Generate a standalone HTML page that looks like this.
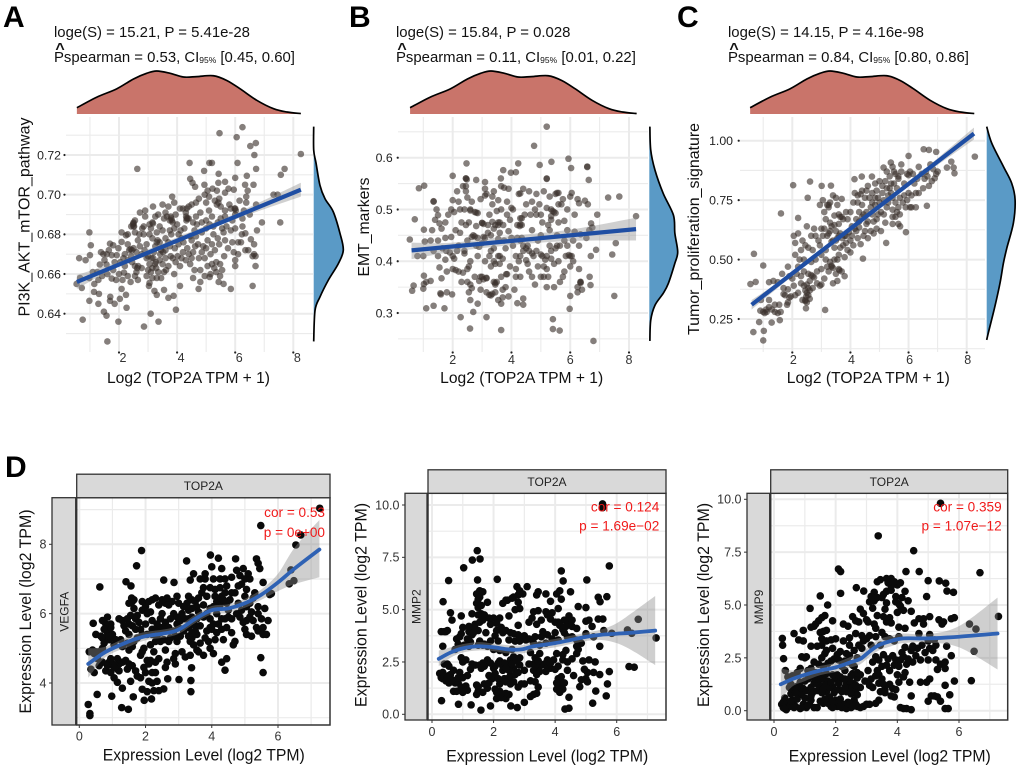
<!DOCTYPE html>
<html lang="en">
<head>
<meta charset="utf-8">
<title>TOP2A correlation panels</title>
<style>
html,body{margin:0;padding:0;background:#fff}
svg{display:block;font-family:"Liberation Sans",Arial,sans-serif}
</style>
</head>
<body>
<svg id="figure" width="1020" height="769" viewBox="0 0 1020 769" xmlns="http://www.w3.org/2000/svg"></svg>
<script>
/* ---------- shared marginal density of the x variable ---------- */
const topDensityX=[0.55,1.23,1.92,2.5,2.95,3.3,3.76,4.22,4.68,5.25,5.71,6.17,6.75,7.32,7.78,8.26];
const topDensityH=[0.146,0.39,0.585,0.815,0.946,1,0.946,0.86,0.87,0.89,0.78,0.585,0.315,0.123,0.046,0.01];

/* ---------- panel A ---------- */
const xTicksTop=[2,4,6,8];
const xMinorTop=[1,3,5,7];
const yTicksA=[0.64,0.66,0.68,0.70,0.72];
const yTickLabelsA=['0.64','0.66','0.68','0.70','0.72'];
const yMinorA=[0.63,0.65,0.67,0.69,0.71,0.73];
const rightDensityYA=[0.7343,0.7225,0.7158,0.7048,0.698,0.6914,0.6804,0.672,0.6652,0.6568,0.6484,0.6417,0.626];
const rightDensityWA=[0,0,0.08,0.21,0.38,0.66,0.89,1,0.83,0.49,0.21,0.045,0];
const fitXA=[0.55,8.26];
const fitYA=[0.656,0.7025];
const bandXA=[0.55,2,4,6,8.26];
const bandHiA=[0.6595,0.6665,0.6785,0.6905,0.706];
const bandLoA=[0.6525,0.664,0.676,0.6875,0.699];
const pointsA=[[6.25,.734],[5.46,.731],[6.05,.729],[6.52,.7245],[6.71,.726],[6.66,.72],[8.26,.7205],[2.63,.713],[4.43,.716],[5.11,.716],[5.2,.716],[6.08,.716],[4.93,.712],[5.43,.7105],[4.45,.708],[4.53,.706],[4.62,.704],[4.94,.705],[6,.7085],[6.4,.7095],[6.72,.713],[7.7,.713],[7.57,.71],[5.42,.706],[5.65,.7065],[6.34,.705],[6.63,.705],[6.43,.702],[5.77,.703],[5.95,.7025],[5.65,.701],[5.05,.702],[5.22,.703],[5.37,.702],[7.32,.7],[7.46,.7],[3.83,.699],[6.38,.699],[6.38,.696],[6.72,.695],[6.92,.686],[7.55,.686],[5.42,.696],[5.37,.695],[6,.693],[6.02,.692],
[1.6,.626],[.75,.637],[1.98,.636],[2.86,.6335],[3.36,.636],[3.09,.64],[3.96,.642],[1.57,.639],[1.48,.641],[2.26,.643],[1.85,.645],[2.03,.6475],[1.69,.6465],[1.7,.6485],[1.29,.645],[.98,.6465],[1.14,.651],[1.31,.65],[2.24,.6495],[2.09,.6525],[.54,.655],[.66,.658],[.72,.653],[.63,.668],[.85,.667],[.98,.681],[1.03,.6745],[1,.6695],[3.7,.648],[3.88,.649],[3.55,.652],[3.22,.6515],[3.03,.654],[3.3,.6495],[4.1,.654],[4.74,.6525],[5.85,.6525],[6.6,.654],[4.8,.656],[5.12,.6585],[5.43,.656],[5.48,.659],[5.6,.655],[6.7,.664],[6,.664],[6.7,.669],[6.35,.672],[6.54,.6775],[6.23,.68],
[1.69,.6753],[1.8,.6745],[1.98,.673],[1.46,.67],[1.58,.67],[1.75,.6695],[1.92,.6695],[2.09,.6762],[2.09,.681],[2.24,.6795],[2.2,.67],[1.34,.6648],[1.57,.6648],[1.1,.661],[.98,.658],[1.29,.657],[1.15,.655],[1.8,.662],[2,.66],[2.17,.6607],[1.75,.6577],
[2.35,.672],[2.4,.6725],[2.45,.666],[2.5,.684],[2.5,.686],[2.42,.684],[2.55,.687],[2.72,.691],[2.9,.689],[2.65,.677],[2.72,.674],[2.8,.683],[2.85,.68],[3.05,.685],[3.17,.694],[3.25,.689],[3.5,.695],[3.7,.694],[3.55,.688],[3.65,.689],[3.75,.687],[3.85,.686],[3.95,.69],[4.2,.693],[4.33,.693],[4.4,.694],[4.32,.687],[4.4,.688],[4.25,.683],[4.65,.696],[4.65,.689],[4.8,.691],[5,.696],[5.1,.692],[5.2,.689],[5.5,.694],[5.65,.689],[5.85,.693],[5.98,.693],[6,.69],[6.25,.688],[5.9,.687],[6.25,.684],[6.35,.6805],[6.1,.676],[5.9,.676],[5.65,.677],[5.45,.675],[5.25,.68],[5,.683],[4.85,.681],[4.6,.682],[4.45,.679],
[2.55,.664],[2.6,.661],[2.55,.659],[2.78,.663],[2.95,.668],[3.05,.665],[3.1,.661],[3.18,.668],[3.28,.663],[3.4,.667],[3.52,.671],[3.6,.668],[3.7,.664],[3.45,.658],[3.3,.658],[3.55,.661],[3.85,.668],[3.95,.666],[4.1,.664],[4.2,.671],[4.35,.673],[4.55,.671],[4.72,.675],[4.9,.674],[5.05,.677],[5.15,.67],[4.95,.668],[4.45,.665],[4.6,.662],[4.8,.662],[5.05,.664],[5.35,.666],[5.48,.665],[5.62,.669],[5.3,.672],[5.95,.671],[6.1,.67],[6.65,.67],[6.6,.669],[2.2,.664],[2.3,.659],[2.4,.656],[2.65,.657],[2.95,.659],[3.05,.6555],[3.15,.663],[3.4,.676],[3.6,.678],[3.3,.681],[3.15,.678],[2.95,.675],[3.5,.682],[3.8,.68],[4.05,.675],[4,.685],[3.2,.671],[2.3,.68],[2.3,.675],[2.55,.681],[3.6,.672],[3.75,.674],[4.15,.678]];
const pointsAExtra=[[2.5,.6855],[2.48,.685],[2.52,.684],[3.15,.686],[3.17,.6855],[3.8,.688],[3.78,.689],[3.82,.687],[4.33,.688],[4.36,.688],[4.31,.689],[3.3,.676],[3.33,.677],[2.5,.673],[2.45,.672],[2.63,.663],[2.66,.664],[3.24,.665],[3.27,.666],[3,.669],[3.12,.668],[3.42,.67],[3.45,.672],[3.7,.676],[3.78,.669],[3.92,.673],[4.02,.669],[4.12,.682],[4.22,.676],[4.3,.667],[4.5,.677],[4.62,.674],[4.68,.685],[4.85,.686],[5,.687],[5.12,.685],[5.25,.684],[5.4,.686],[5.5,.688],[5.55,.683],[5.7,.684],[5.85,.682],[6,.683],[5.8,.695],[5.65,.692],[5.45,.698],[5.3,.697],[5.1,.699],[4.95,.7],[4.75,.698],[4.5,.695],[4.3,.691],[4.1,.693],[3.9,.696],[3.6,.691],[3.35,.69],[3.05,.68],[2.85,.684],[2.7,.68],[2.6,.671],[2.42,.669],[2.3,.667],[2.15,.668],[2.05,.666],[1.85,.666],[1.65,.672],[1.5,.667],[1.38,.671],[1.25,.661],[1.42,.659],[1.6,.66],[1.9,.657],[2.12,.657],[2.78,.67],[3,.662],[3.15,.658],[3.35,.661],[3.5,.665],[3.62,.662],[3.9,.66],[4.15,.668],[4.4,.67],[4.5,.668],[4.75,.668],[4.85,.671],[5,.673],[5.2,.675],[5.4,.678],[5.6,.681],[5.75,.673],[6,.667],[6.2,.676],[6.45,.672],[6.65,.675],[5.2,.665],[5.35,.661],[5.15,.66],[4.95,.659],[5.55,.662],[5.28,.663],[4.55,.658],[6.3,.692],[6.15,.697],[6.5,.69],[6.75,.682],[2.9,.692],[3.1,.683],[3.4,.684],[3.9,.683],[4.55,.686],[4.05,.68],[3.75,.682],[4.65,.679],[3.25,.674],[2.88,.672]];

/* ---------- panel B ---------- */
const yTicksB=[0.3,0.4,0.5,0.6];
const yTickLabelsB=['0.3','0.4','0.5','0.6'];
const yMinorB=[0.25,0.35,0.45,0.55,0.65];
const rightDensityYB=[0.66,0.615,0.576,0.531,0.489,0.454,0.418,0.396,0.357,0.338,0.315,0.286,0.246];
const rightDensityWB=[0.02,0.05,0.2,0.49,0.85,0.9,1,0.9,0.67,0.49,0.2,0.05,0.02];
const fitXB=[0.6,8.24];
const fitYB=[0.421,0.462];
const bandXB=[0.6,2,4,6,8.24];
const bandHiB=[0.436,0.436,0.449,0.461,0.484];
const bandLoB=[0.404,0.418,0.431,0.439,0.44];
const pointsB=[[5.2,.66],[4.77,.623],[2.47,.589],[2,.565],[2.45,.56],[5.94,.598],[6.03,.58],[6.58,.582],[6.63,.557],[5.36,.592],[4.96,.586],[4.23,.589],[3.98,.571],[4.15,.572],[3.72,.576],[3.64,.56],[.85,.541],[1.03,.546],[1.35,.516],[.71,.481],[.54,.442],[.67,.353],[.62,.343],[1.1,.309],[1.35,.314],[1.72,.309],[2.27,.292],[2.59,.27],[2.7,.302],[3.15,.292],[3.65,.267],[5.41,.288],[5.41,.269],[5.64,.266],[6.79,.246],[5.98,.308],[7.5,.333],[7.43,.413],[7.55,.435],[8.24,.487],[7.67,.525],[7.29,.523],[6.92,.49],[6.88,.422],[6.7,.41],[6.69,.354],[6.66,.37],[6.71,.473],[4.2,.319],[4.4,.328],[4.4,.316],
[2.35,.545],[2.45,.545],[2.8,.557],[3.1,.553],[3.1,.54],[3.15,.53],[2.5,.523],[2.45,.535],[2.15,.535],[2,.518],[1.35,.515],[1.45,.5],[1.5,.489],[1.4,.48],[1.75,.475],[1.55,.473],[1.3,.46],[1.02,.461],[1.05,.438],[1.75,.445],[1.62,.463],[1.35,.42],[1,.41],[.8,.41],[1.5,.44],[1.65,.425],[1.78,.42],[1.9,.417],[1.75,.403],[1.55,.388],[1.62,.367],[1.1,.36],[1.25,.362],[1,.347],[1.02,.372],[1.02,.356],[1.6,.336],[1.58,.338],[1.8,.34],[1.98,.336],[2.1,.383],[2,.385],[2.2,.38],[2.35,.378],[2,.41],[2.05,.405],[2.5,.385],[2.5,.36],[2.6,.355],[2.65,.348],[2.6,.325],[2.85,.318],[2.9,.362],[3.05,.365],[3.15,.367],[3.25,.335],[3.35,.337],[3.45,.34],[3.55,.325],[3.65,.318],[3.7,.345],[3.8,.35],[3.85,.375],[3.9,.332],[4.1,.345],[4.15,.37],[3.65,.37],[3.45,.358],[3.5,.36],
[2.3,.475],[2.4,.5],[2.6,.5],[2.75,.495],[2.85,.493],[2.55,.475],[2.8,.468],[3,.474],[3.2,.47],[3.4,.463],[3.55,.475],[3.25,.49],[3.5,.497],[3.65,.5],[3.85,.49],[3.95,.48],[4.3,.483],[4.2,.47],[4.35,.47],[4.45,.49],[4.65,.49],[4.8,.5],[5,.49],[5.2,.503],[5.35,.5],[5.45,.495],[5.35,.48],[5.6,.475],[5.8,.478],[5.7,.51],[5.75,.52],[6,.525],[6.05,.532],[6.25,.52],[6.3,.512],[6.5,.517],[6.6,.51],[5.9,.46],[6.15,.457],[6.35,.452],[6.65,.46],[6.75,.465],[6.55,.445],[3.35,.51],[3.35,.525],[3.4,.535],[3.55,.518],[3.9,.54],[4.25,.53],[4.4,.54],[4.6,.535],[4.85,.53],[5.1,.535],[5.2,.56],[4.95,.51],[5.3,.525],[5.5,.53],[5.6,.532],
[2.65,.447],[2.75,.448],[2.85,.445],[3.1,.445],[3.3,.45],[3.55,.443],[3.75,.44],[4,.445],[4.3,.44],[4.4,.43],[4.5,.425],[4.6,.42],[4.75,.41],[5,.413],[5.15,.403],[5.35,.42],[5.5,.425],[5.65,.43],[5.85,.41],[6,.41],[6.1,.4],[6.3,.385],[5.8,.38],[5.6,.4],[5.45,.395],[5.2,.385],[5.1,.39],[5,.37],[5.1,.37],[5.25,.37],[5.75,.37],[4.9,.39],[4.6,.38],[4.25,.4],[4.3,.41],[4.15,.41],[3.6,.41],[3.45,.395],[3.3,.39],[3.1,.4],[2.95,.37],[2.85,.41],[2.6,.4],[2.4,.415],[2.55,.39],[3.3,.42],[3.4,.4],[3.7,.405],[3.8,.425],[4.8,.355],[5.2,.35],[6,.333],[6.25,.35],[6.35,.36],[6.4,.345],[2.4,.42],[2.2,.43],[2.9,.428]];
const pointsBExtra=[[2.45,.56],[2.48,.558],[5.2,.559],[6.58,.583],[5.55,.532],[4.3,.531],[3.65,.545],[3.75,.542],[3.1,.527],[2.6,.498],[2.8,.494],[3,.474],[3.05,.472],[3.35,.476],[3.55,.47],[3.72,.47],[4.3,.471],[4.28,.468],[4.35,.483],[5.4,.497],[5.5,.493],[5.35,.487],[4,.503],[3.85,.515],[3.6,.475],[3.2,.455],[3.05,.447],[2.7,.45],[2.45,.47],[2.25,.455],[2.05,.495],[2.25,.5],[2.1,.46],[1.95,.447],[2.5,.44],[3.55,.41],[3.4,.425],[3.25,.41],[3.6,.395],[3.15,.368],[3,.37],[3.82,.375],[3.4,.36],[3.3,.334],[3.45,.355],[4.4,.42],[4.55,.43],[4.7,.415],[4.85,.42],[5.05,.41],[5.2,.41],[5.35,.405],[5.55,.43],[5.95,.412],[6.05,.41],[6.35,.36],[6.35,.358],[6.25,.34],[4.5,.402],[4.35,.445],[4.7,.46],[5,.45],[5.25,.47],[5.55,.45],[5.8,.44],[6.1,.44],[6.3,.43],[4.05,.43],[4.2,.445],[3.9,.458],[3.6,.455],[3.45,.47],[3,.435],[2.8,.43],[4.05,.5],[4.5,.51],[4.7,.515],[4.85,.49],[5.05,.475],[6,.39],[5.9,.43],[5.3,.43],[4.7,.37],[4.55,.395],[3.95,.39],[4.15,.385],[4.3,.37],[3.7,.33],[3.15,.34],[2.95,.345],[2.75,.37],[2.55,.34],[2.3,.36],[2.15,.42],[1.8,.38],[1.25,.44],[1.5,.41],[1.85,.49],[1.95,.5],[2.2,.515],[2.65,.515],[2.95,.52],[5.6,.51],[5.9,.5],[6.15,.49],[5.3,.46],[4.9,.44],[5.65,.36],[5.45,.35]];

/* ---------- panel C ---------- */
const yTicksC=[0.25,0.50,0.75,1.00];
const yTickLabelsC=['0.25','0.50','0.75','1.00'];
const yMinorC=[0.125,0.375,0.625,0.875];
const rightDensityYC=[1.059,0.989,0.891,0.821,0.751,0.654,0.549,0.486,0.402,0.304,0.193,0.162];
const rightDensityWC=[0,0.18,0.59,0.88,1,0.94,0.71,0.59,0.47,0.29,0.06,0];
const fitXC=[0.6,8.25];
const fitYC=[0.31,1.03];
const bandXC=[0.6,2,4,6,8.25];
const bandHiC=[0.33,0.445,0.635,0.825,1.055];
const bandLoC=[0.29,0.43,0.62,0.81,1.005];
const pointsC=[[1,.16],[.66,.195],[1.02,.2],[.86,.237],[1.29,.235],[1.57,.245],[3.13,.288],[2.47,.295],[.56,.397],[.74,.406],[.68,.524],[1,.475],[1.61,.694],[2.03,.813],[2.61,.828],[3.01,.81],[3.33,.811],[2.53,.76],[2.2,.675],[4.43,.504],[5.23,.57],[5.91,.615],[5.71,.64],[6.63,.726],[8.28,.933],[6.52,.964],[6.7,.961],[6.95,.953],[7.47,.912],[7.32,.887],[7.55,.887],[7.58,.863],[6.9,.842],[6,.936],[5.39,.908],[5.14,.887],[4.14,.838],[4.39,.849],[4.74,.849],
[.9,.285],[1,.28],[1.05,.275],[1.12,.28],[1.3,.29],[1.4,.31],[1.55,.31],[1.5,.275],[1.6,.28],[1.2,.33],[.92,.33],[1.2,.405],[1.35,.41],[1.5,.405],[1.65,.44],[1.85,.47],[1.7,.38],[1.7,.355],[1.82,.31],[1.85,.32],[1.85,.375],[2,.42],[2.05,.39],[2.1,.35],[2.2,.36],[2.35,.33],[2.45,.33],[2.5,.32],[2.55,.35],[2.6,.335],[2.45,.37],[2.5,.395],[2.6,.41],[2.7,.43],[2.55,.44],[2.4,.45],[2.3,.43],[2.85,.45],[2.95,.39],[3,.395],[3.4,.4],[3.55,.41],[3.7,.45],[3.8,.43],[3.2,.47],[3.35,.47],[3.3,.49],[2.8,.5],[2.65,.49],[2.7,.54],[2.45,.56],[2.3,.54],[2.1,.57],[2.05,.6],[2.2,.61],[2.35,.58],[2.5,.64],[2.75,.63],[2.65,.6],[2.9,.58],[3.05,.6],[3.1,.63],[3.25,.61],[3.35,.575],[3.55,.59],[3.65,.61],[3.85,.57],[3.9,.54],[4,.53],[3.45,.55],[3.15,.54],[3,.52],[3.6,.52],[4.1,.56],[4.25,.59],[4.35,.565],[4.6,.59],[4.8,.61],[4.9,.63],[5.05,.62],[4.5,.62],
[3.05,.75],[3.2,.73],[3.25,.73],[3.4,.77],[3.5,.76],[3.7,.755],[3.85,.7],[3.6,.69],[3.7,.68],[3.9,.67],[3.15,.67],[3.3,.655],[3.45,.645],[3.6,.65],[4.05,.64],[4.2,.67],[4.3,.7],[4.4,.73],[4.15,.78],[4.35,.775],[4.55,.79],[4.65,.76],[4.85,.76],[5,.74],[5.15,.75],[5.3,.77],[5.05,.7],[5.25,.72],[5.45,.71],[5.55,.68],[5.7,.69],[5.9,.72],[6.1,.72],[6.25,.72],[6,.78],[5.85,.77],[5.7,.76],[5.6,.8],[5.4,.82],[5.2,.83],[5,.83],[4.85,.82],[4.6,.81],[5.55,.86],[5.75,.87],[5.95,.86],[6.05,.87],[6.2,.82],[6.35,.78],[6.5,.8],[6.7,.81],[6.8,.83],[6.6,.87],[6.45,.86],[6.35,.89],[6.75,.9],[6.95,.86],[5.35,.85],[5.25,.87],[5.45,.89],[5.75,.9],[4.75,.78],[4.4,.79],[4.25,.74],[4.15,.63],[4.6,.66],[4.9,.67],[5.2,.655],[5.45,.65],[5.65,.65],[3.8,.6],[3.5,.62]];
const pointsCExtra=[[2.5,.36],[2.48,.345],[2.45,.325],[2.55,.38],[2.65,.435],[2.75,.425],[3.35,.475],[3.4,.465],[3.6,.46],[3.62,.455],[3.65,.68],[3.75,.67],[3.25,.72],[3.3,.74],[3.55,.73],[3.45,.685],[3.2,.6],[3.4,.58],[3.6,.6],[3.72,.59],[3.85,.6],[3.95,.615],[4.05,.6],[4.2,.62],[4.3,.635],[4.45,.6],[4.55,.65],[4.7,.62],[4.8,.66],[4.4,.68],[4.55,.7],[4.7,.72],[4.85,.73],[4.95,.76],[5.1,.78],[5.25,.8],[5.45,.76],[5.55,.74],[5.65,.72],[5.8,.74],[5.95,.75],[6.1,.77],[6.25,.78],[6.3,.84],[6.15,.86],[6,.855],[5.85,.82],[5.65,.84],[5.5,.82],[5.4,.78],[5.3,.74],[5.15,.69],[4.95,.69],[4.75,.69],[5.45,.68],[5.6,.7],[6.05,.72],[6.55,.84],[6.65,.85],[6.85,.88],[7,.87],[1.1,.29],[1.2,.3],[1.4,.28],[1.75,.35],[1.9,.34],[1.95,.345],[2.15,.44],[2.3,.4],[2.4,.39],[2.6,.37],[2.7,.38],[2.85,.4],[3,.46],[3.1,.42],[3.25,.45],[3.15,.5],[3.45,.5],[3.55,.5],[3.8,.51],[2.4,.5],[2.2,.47],[2.1,.52],[2.25,.5],[1.9,.43],[2.95,.56],[2.55,.55],[2.8,.6],[3,.63],[3.35,.64],[3.5,.58],[2.95,.73],[3.1,.7],[3.3,.62],[4,.7],[4.1,.74],[4.25,.77],[4.5,.76],[4.75,.74],[4.9,.79],[5.1,.81],[5.5,.87],[5.65,.85],[5.35,.8],[4.3,.66],[4.45,.69],[3.65,.55],[3.75,.56],[4,.58],[3.5,.44]];

/* ---------- panel D: VEGFA ---------- */
const xTicksBottom=[0,2,4,6];
const xMinorBottom=[1,3,5,7];
const yTicksD1=[4,6,8];
const yMinorD1=[3,5,7,9];
const smoothXD1=[0.27,0.8,1.5,2,2.9,3.5,4,4.5,5,5.5,6,6.5,7.25];
const smoothYD1=[4.55,4.9,5.2,5.35,5.5,5.85,6.1,6.15,6.3,6.55,6.9,7.3,7.85];
const smoothHiD1=[5,5.05,5.35,5.47,5.62,5.97,6.22,6.27,6.43,6.7,7.15,7.9,8.7];
const smoothLoD1=[4.15,4.75,5.05,5.23,5.38,5.73,5.98,6.03,6.17,6.4,6.65,6.85,7.05];
const pointsD1=[[7.26,9.04],[5.48,8.54],[6.69,8.27],[6.54,7.98],[1.88,7.82],[1.73,7.38],[.62,6.77],[3.24,7.52],[3.96,7.69],[4.2,7.6],[4.72,7.58],[5.35,7.58],[.27,3.38],[.32,3.12],[.32,3.06],[.54,3.67],[.98,3.62],[1.28,3.29],[1.48,3.24],[1.63,3.6],[1.96,3.5],[2.18,3.54],[3.37,3.75],[3.37,4.07],[3.39,4.44],[3.01,4.1],[2.67,4.12],[5.48,4.73],[5.55,4.3],[4.4,4.37],[4.3,4.6],[4.45,4.7],[6.34,6.86],[6.48,6.95],[6.39,7.26],[5.8,6.58],[5.55,6.9],[2.55,6.97],[2.86,6.9],[1.41,6.92],[1.56,6.8],[.42,5.72],
[.3,4.9],[.35,4.4],[.45,4.3],[.45,4.85],[.5,5.4],[.65,5.35],[.7,5],[.75,5.55],[.85,5.9],[.85,5.45],[.95,5.7],[.8,5.3],[1,5.4],[.9,4.6],[.8,4.35],[.85,4.5],[.95,4.3],[1.05,4.15],[1.15,4.4],[1.2,4.35],[1.15,4.02],[1.3,3.85],[1.25,5.25],[1.3,5.8],[1.4,5.5],[1.5,5.7],[1.55,5.95],[1.6,6.35],[1.58,6.45],[1.65,6.15],[1.7,5.85],[1.8,5.75],[1.9,6.1],[1.9,6.35],[2,5.7],[1.9,5.4],[1.75,5.3],[1.5,4.95],[1.65,5.2],[1.4,4.65],[1.5,4.55],[1.6,4.5],[1.7,4.35],[1.55,4.05],[1.75,4.2],[1.95,4.45],[1.85,4.8],[1.95,5],[2.05,4.65],[2.1,4.05],[2.2,4],[1.9,3.82],[2.05,3.75],[2.25,3.78],[2.4,3.78],[2.55,3.83],[2.3,4.3],[2.1,4.55],[2.3,4.6],[2.45,5.2],[2.6,4.95],[2.65,4.6],[2.6,4.45],[2.85,4.7],[2.9,4.85],[3.1,4.9],[3.2,4.75],[2.95,5.2],[2.7,5.2],[2.2,5.55],[2.35,5.7],[2.45,5.85],[2.6,5.75],[2.7,5.6],[2.85,6],[2.95,5.9],[3.1,6],[2.6,6.3],[2.8,6.35],[2.2,6.4],[2.4,6.25],[2.5,6.4],[2.95,6.5],[3.3,6.5],[3.25,6.3],[3.4,6.4],[3.35,6.97],[3.45,7.15],[3.8,7.15],[3.8,7],[4,7.35],[4.05,7],[3.85,6.5],[3.7,6.6],[3.55,6.2],[3.6,6.45],[3.15,5.5],[3.3,5.6],[3.4,5.3],[3.55,5.4],[3.65,5.15],[3.35,5.2],[3.6,4.9],[3.75,4.8],[3.95,5],[4.05,4.85],[3.85,5.5],[3.9,5.2],[4,5.55],[4.2,5.7],[4.3,5.85],[4.15,6.35],[4.3,6.5],[4.4,6.6],[4.25,7],[4.3,7.3],[4.45,6.8],[4.55,6.4],[4.7,6.6],[4.8,6.8],[4.8,6.3],[4.5,5.9],[4.6,5.45],[4.7,5.2],[4.65,5.1],[4.85,5.9],[4.9,6.85],[4.95,7.3],[5,7],[5.1,7.15],[5.15,7],[5.05,6.7],[5,6.5],[4.95,5.75],[5,5.55],[5.05,5.4],[5.2,6.05],[5.25,5.8],[5.2,5.35],[5.35,5.6],[5.4,5.5],[5.3,6.6],[5.4,7.45],[5.45,7.3],[5.55,5.4],[5.65,5.4],[5.7,5.8],[5.6,6.15],[5.75,6.55],[5.4,6.2],[1.1,5.25],[2,6.2],[2.15,6.05],[2.3,5.2],[2.45,5.45],[3.5,5.65],[3.75,6.25],[3.95,5.85],[4.1,6.5],[4.5,6.1],[1.15,4.7],[.7,4.6],[.6,4.5],[2.7,6.25],[3.05,5.35],[4.35,5.25],[4.1,5.25]];
const pointsD1Extra=[[.4,4.95],[.5,4.9],[.55,4.7],[.7,5.3],[.75,5.15],[.9,5.25],[1.05,5.1],[.95,5.6],[.8,5.7],[.7,5.8],[1.2,5.85],[1.35,5.65],[1.45,5.85],[1.6,5.65],[1.7,5.55],[1.5,5.4],[1.3,5.05],[1.45,5.15],[1.6,5.05],[1.3,4.6],[1.45,4.4],[1.2,4.55],[1.1,4.5],[1,4.55],[.95,4.7],[1.05,4.45],[1.9,4.9],[2,4.3],[2.15,4.65],[2.25,4.9],[2.4,4.7],[2.15,5.1],[2.05,5.4],[2.2,5.8],[2.35,5.55],[2.5,5.6],[2.6,5.55],[2.55,5.25],[2.75,5.3],[2.85,5.5],[2.95,5.7],[3.05,5.8],[3.2,5.85],[3.3,5.85],[3.4,5.9],[3.45,5.7],[3.55,5.85],[3.65,5.65],[3.3,6.1],[3.5,6.35],[3.4,6.15],[3.6,6.05],[3.75,5.9],[3.85,6],[3.95,6.15],[4.05,6.2],[4.15,6],[4.25,6.25],[4.35,6.4],[4.45,6.3],[4.6,6.6],[4.25,6.75],[4.4,7],[4.1,6.7],[3.95,6.75],[3.75,6.75],[3.65,7],[4.6,7.05],[4.75,7.25],[4.85,7.1],[3.5,5.5],[3.4,5.45],[3.3,5.35],[3.8,5.3],[3.95,5.6],[4.05,5.7],[4.15,5.45],[4.3,5.55],[4.45,5.6],[4.4,5.85],[4.6,5.85],[4.75,6],[4.9,6.1],[5.05,6.2],[5.15,6.3],[5.25,6.45],[5.4,6],[5.5,5.85],[5.55,5.6],[5.05,5.8],[5.15,5.9],[2.2,5.4],[2.35,5.3],[2.5,6],[2.75,5.85],[2.1,6.35],[2.3,6.45],[2.65,6.45],[3,6.3],[3.15,6.2],[2.9,5.35],[3.45,5.1],[3.35,4.8],[3.55,4.95],[1.75,5.95],[1.85,5.55],[2.05,6],[1.65,6.4],[1.5,6.3],[.9,5.35],[.6,4.9],[1.85,4.15],[2.35,4.05],[2.2,4.3],[2.9,4.55],[3,5.6]];

/* ---------- panel D: MMP2 ---------- */
const yTicksD2=[0,2.5,5,7.5,10];
const yTickLabelsD2=['0.0','2.5','5.0','7.5','10.0'];
const yMinorD2=[1.25,3.75,6.25,8.75];
const smoothXD2=[0.22,0.6,1,1.5,2,2.5,2.9,3.3,4,4.5,5,5.5,6,6.5,7.25];
const smoothYD2=[2.65,2.95,3.15,3.25,3.2,3.1,3.1,3.25,3.4,3.55,3.7,3.8,3.85,3.9,4];
const smoothHiD2=[3.05,3.2,3.35,3.45,3.38,3.3,3.3,3.45,3.6,3.75,3.9,4.05,4.35,4.85,5.65];
const smoothLoD2=[2.3,2.7,2.95,3.05,3.02,2.9,2.9,3.05,3.2,3.35,3.5,3.55,3.4,3.05,2.35];
const pointsD2=[[5.54,10.05],[5.54,9.87],[1.47,7.82],[1.31,7.37],[1.56,7.42],[1.03,7],[.54,6.39],[1.48,6.42],[2.12,6.45],[5.76,7.09],[4.2,6.85],[4.26,6.37],[5.03,6.42],[3.09,6.1],[2.76,6.1],[.36,5.38],[6.7,4.54],[7.28,3.65],[6.4,2.28],[6.57,2.25],[6.35,4.03],[6.49,3.87],[5.84,3.87],[5.76,2.04],[.31,.65],[.86,.48],[1.27,.45],[1.59,.2],[1.9,.4],[2.56,.4],[2.77,.32],[3,.57],[4.32,.25],[4.45,.29],[4.45,.81],[5.22,.53],[5.66,.88],[5.32,1.11],[4.8,1.32],[5.7,1.45],[5.68,5.62],[5.4,5.59],[5.46,5.38],[5.55,4.55],[5.4,4.55],[5.58,4],[5.45,3.25],[5.3,2.5],[5.1,2.6],[5.25,2],[5.05,2],[5.45,1.9],[5,1.7],[5.05,1.55],
[.3,1.75],[.25,1.95],[.35,1.7],[.4,2.4],[.45,1.6],[.55,1.5],[.6,1.9],[.7,2.1],[.7,1.1],[.8,1.1],[.85,1.5],[.95,1.3],[1.1,1.35],[.9,2],[1,2.5],[.95,2.7],[.35,3.25],[.3,3.95],[.5,4],[.6,4.85],[.65,4.5],[.8,3.6],[.9,3.7],[.95,3.85],[.95,4.7],[1.05,3.3],[1.2,3.25],[1.2,3.95],[1.3,3.8],[1.3,4.8],[1.4,4.3],[1.5,4],[1.5,5.1],[1.5,5.5],[1.55,5.9],[1.65,5.85],[1.6,4.8],[1.7,4.75],[1.8,5.35],[1.55,4.4],[1.65,3.3],[1.5,3.3],[1.55,2.35],[1.65,2.45],[1.8,2.6],[1.4,2.35],[1.25,2.15],[1.1,2.6],[1.45,1.4],[1.5,1.1],[1.65,1.05],[1.8,1.25],[1.45,.95],[1.95,1.7],[1.85,1.85],[2,2.2],[2.05,2.3],[2.1,.75],[2.2,1.1],[2.25,.8],[2.4,.75],[2.5,.95],[2.2,1.45],[2.35,1.7],[2.45,1.6],[2.55,1.85],[2.3,2.1],[2.45,2.35],[2.55,2.6],[2.65,2.2],[2.7,1.9],[2.8,1.3],[2.9,1.45],[3,2.1],[3.2,1.6],[3.35,1.55],[3.45,1.3],[3.3,.95],[3.45,2.2],[3.3,2.4],[3.35,2.7],[3.5,2.9],[3.7,2.05],[3.85,2.2],[3.95,2.6],[4.05,2.9],[4.1,1.7],[4.15,1.35],[4.25,1.2],[4.2,1.55],[4.4,2.1],[4.4,2.5],[4.55,2.65],[4.6,1.85],[4.9,2.55],[4.95,2.15],[4.85,1.65],
[1.9,4.3],[2,4.6],[2.1,4],[2.3,3.9],[2.5,4.7],[2.3,5.3],[2.45,5.45],[2.6,5.55],[2.7,5],[2.8,4.25],[2.95,5.75],[2.8,5.35],[2.85,5.05],[3,3.75],[2.8,3.8],[2.7,3.5],[2.6,3.1],[2.2,3.05],[2,3.1],[1.9,3.5],[3.3,4.9],[3.45,4.95],[3.4,5.7],[3.45,5.85],[3.7,5.75],[3.85,5.4],[3.7,4.9],[3.9,4.85],[4.05,5.75],[4.15,5.9],[4.2,5.5],[4.1,5.05],[4.3,4.5],[4.45,4.7],[4.55,4.2],[4.3,3.9],[4.1,4.4],[4.5,5.85],[4.75,5.15],[5,5.1],[5,4.45],[5.2,4.2],[4.7,4.1],[3.35,3.7],[3.55,3.7],[3.7,3.4],[3.9,3.6],[4.1,3.55],[4.75,3.1],[4.7,2.9],[4.85,3.4],[3.2,2.95],[3.05,3.55],[2.4,2.95],[3.15,2.4],[3.55,2.35],[3.75,2.6],[2.85,2.35],[2.2,2.55],[.45,3.95],[.55,1.85],[.75,1.5],[.35,2],[2.65,2.75],[4.25,2.85],[4.35,3.05]];
const pointsD2Extra=[[1.45,5.75],[1.55,5.6],[1.45,5.3],[1.6,5.2],[1.5,4.75],[1.65,4.5],[1.4,4.1],[1.35,3.9],[1.25,3.45],[1.15,3.6],[1.55,3.5],[1.7,3.35],[1.3,2.4],[1.6,2.2],[1.7,2.3],[1.75,3.9],[1.85,4.6],[2.1,4.35],[2.2,4.6],[2.25,4.15],[2.05,3.75],[2.4,4],[2.55,3.9],[2.65,3.85],[2.4,5.45],[2.65,5.6],[2.8,5.7],[2.85,5.9],[2.3,2.3],[2.35,2.45],[2.5,2.1],[2.6,2.4],[2.4,2.2],[2.5,1.75],[2.4,1.55],[2.65,1.55],[2.55,1.45],[2.8,2],[2.75,2.55],[2.85,2.7],[3,1.45],[2.05,1.95],[2.15,1.7],[1.85,1.5],[1.9,2.45],[2.15,2.45],[3.3,2.1],[3.35,2.3],[3.45,2.55],[3.5,2.05],[3.4,1.9],[3.65,2.4],[3.75,2.2],[3.85,2.45],[4,2.15],[4.1,2.3],[4.25,2.6],[4.05,1.5],[4.2,1.8],[4.3,1.5],[3.25,4.6],[3.15,4.4],[3.4,4.3],[3.55,4.5],[3.75,4.75],[3.85,4.55],[4,4.4],[4.15,4.25],[4.25,4.05],[4.4,4.45],[4.35,4.2],[4.55,4.5],[3.6,3.95],[3.75,3.8],[4,3.9],[4.4,3.7],[4.55,3.7],[4.7,3.55],[3.15,3.6],[3.3,3.4],[3.5,3.3],[2.85,3.5],[2.5,3.55],[2.15,3.5],[1.8,3.25],[.85,1.75],[.65,1.65],[.5,1.75],[.85,3.35],[.75,3.1],[1,1.75],[1.15,1.85],[1,1.05],[1.15,1.15],[1.7,1.45],[1.5,1.3],[2.4,1],[2.25,1],[2.05,1.2],[2.1,1.05],[3.4,1],[3.2,.85],[4.05,1.2],[4.15,1.05],[4.7,3.25],[5,3.85],[5.1,4.5],[5.25,3.7],[.55,2.3],[.5,2.4],[.4,3.95],[1,4.15],[1.2,4.2]];

/* ---------- panel D: MMP9 ---------- */
const yTicksD3=[0,2.5,5,7.5,10];
const yTickLabelsD3=['0.0','2.5','5.0','7.5','10.0'];
const yMinorD3=[1.25,3.75,6.25,8.75];
const smoothXD3=[0.22,0.6,1,1.5,2,2.5,2.8,3.1,3.4,3.8,4.2,5,6,7.25];
const smoothYD3=[1.25,1.5,1.7,1.9,2.05,2.3,2.45,2.8,3.1,3.3,3.42,3.42,3.5,3.65];
const smoothHiD3=[2,1.9,2,2.12,2.27,2.55,2.72,3.05,3.37,3.55,3.65,3.62,4,5.35];
const smoothLoD3=[0.55,1.15,1.4,1.68,1.83,2.05,2.2,2.55,2.85,3.05,3.2,3.22,3,1.95];
const pointsD3=[[5.4,9.81],[3.38,8.27],[4.53,7.57],[2.09,6.7],[2.16,6.58],[6.68,6.53],[7.28,4.46],[6.34,4.1],[6.55,3.86],[6.49,2.81],[6.4,1.42],[4.28,6.58],[4.71,6.58],[5,6.15],[5.36,6.14],[5.57,6.03],[5.61,5.66],[5.82,5.6],[2.67,5.82],[2.91,5.66],[1.5,5.43],[2.16,5.55],[1.17,4.84],[1.74,5],[.27,3.42],[.31,2.46],[.28,3.1],[.37,1.9],[.65,3.65],[.8,3.35],[.95,3.3],[.95,3.8],[1.2,3.05],[1.2,3.95],[1.3,4],[1.3,2.3],[1.5,3.7],[1.55,3.4],[1.55,4.4],[1.65,4.5],[1.7,3.8],[1.9,4.25],[1.9,2.95],[1.65,2.7],[1.55,2.5],[1.7,2.85],[.9,2.55],[1,2.5],[.85,2],[.6,1.65],[.75,1.8],
[.25,.3],[.3,.15],[.4,.05],[.45,.4],[.55,.8],[.65,.5],[.7,.2],[.8,.9],[.85,.1],[.95,.3],[1,.6],[1.05,.15],[1.15,.3],[1.25,.85],[1.4,.15],[1.5,.45],[1.35,1.3],[1.5,1.1],[1.6,1.5],[1.7,.9],[1.8,.65],[1.85,.2],[2,.5],[2.05,.2],[2.15,.55],[2.2,.15],[2.35,.9],[2.4,.4],[2.5,.15],[2.6,.5],[2.7,.2],[2.8,.15],[2.9,.2],[3.1,.3],[3.3,.35],[3.4,.5],[3.45,.9],[3.6,1],[3.8,.7],[3.9,.65],[1.35,1.8],[1.5,1.7],[1.75,1.4],[1.9,1.15],[2,1.5],[2.1,1.3],[2.25,1.5],[2.35,1.25],[2.45,1.05],[2.55,1.3],[2.65,.95],[2.7,1.55],[2.8,1.1],[1.1,1.5],[1.3,1.3],[.95,1.05],[.9,.75],[3.1,1.2],[3.2,1.1],[3.4,1.3],[3.05,1.9],[3.4,1.7],[3.5,2.1],[3.5,1.5],[3.75,1.25],[3.85,1.05],[4,1.7],[4.05,2.1],[4.1,.15],[4.2,.1],[4.3,.1],[4.45,.05],[4.4,1.35],[4.45,.7],[4.75,1.35],[5,.45],[5.1,.7],[5.2,.7],[5.3,.65],[5.4,.45],[5.55,.1],[5.65,.1],[5.7,.75],[5.55,1.2],[5.85,1.4],[5.05,1.5],[5.3,1.95],[5.4,2.2],[5.55,2.3],[5.75,2.6],[5,2.4],[4.75,2.4],[4.6,2.6],[4.3,2.2],[4.25,1.8],[4.15,2.75],[4.25,3],[4.45,2.85],[3.85,2.6],[3.7,2.45],[3.65,2.15],[3.9,2.15],[4.65,2.95],[4.8,3.1],[5.05,2.95],[5.25,3.1],
[2.3,1.9],[2.4,2.3],[2.55,2.15],[2.7,2.5],[2.05,2.65],[1.95,2.45],[1.75,2.25],[2.15,2.8],[2.35,2.7],[2.6,2.85],[2.85,2.95],[2,3.4],[2.25,3.3],[2.45,3.45],[2.65,3.65],[2.85,3.55],[2.9,3.3],[2.25,4.1],[2.4,4],[2.55,4.45],[2.75,4.2],[2.8,4.8],[2.9,4.6],[3.05,4.2],[3.25,4.1],[3.3,3.9],[3.1,5.15],[3.25,5.2],[3.35,5.35],[3.5,5.35],[3.35,6.1],[3.45,6.2],[3.65,6.25],[3.8,6.25],[3.65,5.65],[3.8,5.7],[3.95,5.4],[4.05,5.05],[4.1,6.05],[4,5.95],[4.25,5.65],[4.35,5.2],[4.45,4.7],[4.55,4.15],[4.7,4.35],[4.85,4.35],[5.05,4.45],[4.95,5.4],[4.25,3.9],[4.05,3.95],[3.35,4.5],[3.55,4.45],[3.6,4.8],[3.75,4.4],[4,4.65],[4.1,4.95],[3.6,3.5],[3.75,3.4],[3.45,3.1],[3.15,3.1],[3.9,3.3],[4.05,3.5],[4.7,3.65],[5.35,4.3],[5.5,4.2],[5.75,4.35],[5.85,4.4],[5.45,4.1],[5.6,3.05],[5.05,3.6],[1.4,3.05],[1.55,3.1],[.5,1.1],[.45,1.6],[.65,.15],[1.75,.35],[2.55,1.75],[2.95,1.4],[.55,1.25],[.35,.6],[.6,1.05]];
const pointsD3Extra=[[.3,.4],[.4,.3],[.5,.2],[.55,.45],[.75,.55],[.9,.15],[1.1,.25],[1.2,.5],[1.3,.15],[1.6,.35],[1.65,.55],[1.9,.4],[2.1,.4],[2.3,.3],[2.35,.1],[2.45,.3],[2.65,.3],[1.4,.95],[1.55,.85],[1.65,1.2],[1.45,1.25],[1.6,1.05],[1.8,1.1],[1.85,1.35],[1.95,.85],[2.1,1],[2.2,.9],[2.3,1.1],[2.45,1.4],[2.55,1.1],[2.65,1.2],[2.5,.8],[2.7,.75],[2.3,1.5],[2.15,1.6],[2.05,1.7],[1.9,1.7],[2.5,1.65],[2.7,1.8],[2.8,1.7],[2.6,2.1],[2.2,2.1],[2.1,2.4],[1.85,2.35],[1.6,2.1],[1.45,2.2],[1.2,2],[1.1,1.9],[1.05,.95],[1.2,1.1],[.75,1.15],[.85,1.35],[1,1.4],[3.15,1.5],[3.3,1.65],[3.55,1.25],[3.35,1.9],[3.4,2.4],[3.55,2.65],[3.3,2.55],[3.2,2.3],[3.75,1.9],[3.95,2.4],[4.1,2.4],[4.2,2.55],[4.35,2.45],[4.5,2.3],[4.05,1.35],[4.2,1.6],[3.95,1],[4.5,3.05],[4.9,2.75],[5.15,2.85],[5.25,2.4],[5,3.3],[5.2,3.35],[4.85,4.1],[3.65,5.1],[3.55,5.5],[3.8,5.9],[3.9,6.1],[3.7,6.05],[3.25,5.6],[3.15,5.4],[4.15,5.35],[4.2,4.75],[3.95,5.15],[3.8,4.15],[3.65,4.2],[3.2,4.85],[3,4.3],[2.65,4.25],[2.45,3.1],[2.75,3.1],[3,3.4],[3.1,3.55],[3.3,3.5],[3.5,3.7],[1.85,3.35],[1.7,3.3],[1.45,4.25],[1.35,4.1],[1.6,3.75],[1.05,2.55],[.7,.85],[1.9,.15],[2.15,.2],[2.55,.2],[3,.3],[.35,.1],[1.7,1.75],[1.25,1.6],[1.45,1.5],[1.2,.7],[3.6,.85],[2.3,2.35],[2.45,2.6],[5.55,2],[4.95,1.35]];

/* ---------- drawing ---------- */
const SVGNS='http://www.w3.org/2000/svg';
const root=document.getElementById('figure');
function linear(v0,p0,v1,p1){return function(v){return p0+(v-v0)*(p1-p0)/(v1-v0);};}
function make(tag,attrs,parent){
  const n=document.createElementNS(SVGNS,tag);
  for(const k in attrs){n.setAttribute(k,attrs[k]);}
  (parent||root).appendChild(n);
  return n;
}
function group(name,parent){
  const g=make('g',{},parent);
  
  
  return g;
}
function label(name,str,attrs,parent){
  const t=make('text',attrs,parent);
  t.textContent=str;
  
  
  return t;
}
function spline(pts){
  let d='M'+pts[0][0].toFixed(2)+' '+pts[0][1].toFixed(2);
  for(let i=0;i<pts.length-1;i++){
    const p0=pts[Math.max(0,i-1)],p1=pts[i],p2=pts[i+1],p3=pts[Math.min(pts.length-1,i+2)];
    const c1=[p1[0]+(p2[0]-p0[0])/6,p1[1]+(p2[1]-p0[1])/6];
    const c2=[p2[0]-(p3[0]-p1[0])/6,p2[1]-(p3[1]-p1[1])/6];
    d+='C'+c1[0].toFixed(2)+' '+c1[1].toFixed(2)+' '+c2[0].toFixed(2)+' '+c2[1].toFixed(2)+' '+p2[0].toFixed(2)+' '+p2[1].toFixed(2);
  }
  return d;
}
function gridLines(g,xs,ys,xScale,yScale,box,width,name){
  xs.forEach(function(v){
    const l=make('line',{x1:xScale(v),x2:xScale(v),y1:box.top,y2:box.bottom,stroke:'#ebebeb','stroke-width':width},g);
    
    
  });
  ys.forEach(function(v){
    const l=make('line',{y1:yScale(v),y2:yScale(v),x1:box.left,x2:box.right,stroke:'#ebebeb','stroke-width':width},g);
    
    
  });
}
function band(g,xs,hi,lo,xScale,yScale,fill,opacity){
  const upper=xs.map(function(v,i){return [xScale(v),yScale(hi[i])];});
  const lower=xs.map(function(v,i){return [xScale(v),yScale(lo[i])];}).reverse();
  const d=spline(upper)+'L'+lower[0][0]+' '+lower[0][1]+spline(lower).replace(/^M[^C]*/,'')+'Z';
  const p=make('path',{d:d,fill:fill,'fill-opacity':opacity},g);
  
  
}

function drawTopPanel(o){
  const g=group(o.name);
  const xScale=linear(2,o.x2,8,o.x8);
  const yScale=linear(o.yv0,o.yp0,o.yv1,o.yp1);
  const grid=group('grid',g);
  gridLines(grid,xMinorTop,o.yMinor,xScale,yScale,o.box,1.1,'minor-grid-line');
  gridLines(grid,xTicksTop,o.yTicks,xScale,yScale,o.box,2,'major-grid-line');

  const pts=group('scatter-points',g);
  o.points.forEach(function(p){
    const c=make('circle',{cx:xScale(p[0]),cy:yScale(p[1]),r:3.3,fill:'#3a302b','fill-opacity':0.62},pts);
    
    
  });
  band(g,o.bandX,o.bandHi,o.bandLo,xScale,yScale,'#8f8f8f',0.42);
  const fit=make('line',{x1:xScale(o.fitX[0]),y1:yScale(o.fitY[0]),x2:xScale(o.fitX[1]),y2:yScale(o.fitY[1]),stroke:'#1f4ea3','stroke-width':4.2},g);
  
  

  /* top marginal density */
  const topPts=topDensityX.map(function(v,i){return [xScale(v),114-43*topDensityH[i]];});
  const topD=spline(topPts);
  const topFill=make('path',{d:topD+'L'+xScale(topDensityX[topDensityX.length-1])+' 114L'+xScale(topDensityX[0])+' 114Z',fill:'#c9746a'},g);
  
  
  const topLine=make('path',{d:topD,fill:'none',stroke:'#000','stroke-width':1.7},g);
  
  

  /* right marginal density */
  const rPts=o.rightY.map(function(v,i){return [o.densBase+o.densWidth*o.rightW[i],yScale(v)];});
  const rD=spline(rPts);
  const rFill=make('path',{d:rD+'L'+o.densBase+' '+rPts[rPts.length-1][1]+'L'+o.densBase+' '+rPts[0][1]+'Z',fill:'#5a9ac6'},g);
  
  
  const rLine=make('path',{d:rD,fill:'none',stroke:'#000','stroke-width':1.7},g);
  
  

  /* ticks */
  xTicksTop.forEach(function(v){
    const d=make('circle',{cx:xScale(v),cy:352.5,r:1.1,fill:'#222'},g);
    
    
    label('x-tick-label',String(v),{x:xScale(v)+o.xLabelShift,y:o.xLabelY,'font-size':12.5,'text-anchor':'middle',fill:'#333'},g);
  });
  o.yTicks.forEach(function(v,i){
    const d=make('circle',{cx:o.yTickX,cy:yScale(v),r:1.1,fill:'#222'},g);
    
    
    label('y-tick-label',o.yLabels[i],{x:o.yLabelX,y:yScale(v)+4.3,'font-size':12.3,'text-anchor':'end',fill:'#222'},g);
  });
  /* titles */
  label('x-axis-title','Log2 (TOP2A TPM + 1)',{x:o.xTitleX,y:383,'font-size':15.5,'text-anchor':'middle',fill:'#111',textLength:163,lengthAdjust:'spacingAndGlyphs'},g);
  label('y-axis-title',o.yTitle,{transform:'translate('+o.yTitleX+' '+o.yTitleY+') rotate(-90)','font-size':15.5,'text-anchor':'middle',fill:'#111',textLength:o.yTitleLen,lengthAdjust:'spacingAndGlyphs'},g);

  /* statistics */
  label('stats-line-1',o.stat1,{x:o.statX,y:37,'font-size':14.9,fill:'#111'},g);
  const s2=label('stats-line-2','',{x:o.statX,y:62,'font-size':14.9,fill:'#111'},g);
  const a=make('tspan',{},s2);a.textContent='Pspearman = '+o.rho+', CI';
  const b=make('tspan',{'font-size':8.5,dy:1},s2);b.textContent='95%';
  const c=make('tspan',{dy:-1},s2);c.textContent=' '+o.ci;
  label('stats-hat','^',{x:o.statX+6,y:54,'font-size':16,'font-weight':'bold','text-anchor':'middle',fill:'#111'},g);
  label('panel-letter',o.letter,{x:o.letterX,y:27,'font-size':30,'font-weight':'bold',fill:'#000'},g);
}

function drawBottomPanel(o){
  const g=group(o.name);
  const xScale=linear(0,o.x0,6,o.x6);
  const yScale=linear(o.yv0,o.yp0,o.yv1,o.yp1);
  const box=o.box;
  const grid=group('grid',g);
  gridLines(grid,xMinorBottom,o.yMinor,xScale,yScale,box,1.2,'minor-grid-line');
  gridLines(grid,xTicksBottom,o.yTicks,xScale,yScale,box,2,'major-grid-line');

  const pts=group('scatter-points',g);
  o.points.forEach(function(p){
    const c=make('circle',{cx:xScale(p[0]),cy:yScale(p[1]),r:3.8,fill:'#0a0a0a'},pts);
    
    
  });
  band(g,o.smoothX,o.smoothHi,o.smoothLo,xScale,yScale,'#8c8c8c',0.42);
  const smooth=make('path',{d:spline(o.smoothX.map(function(v,i){return [xScale(v),yScale(o.smoothY[i])];})),fill:'none',stroke:'#2f62b4','stroke-width':3.8,'stroke-linecap':'round'},g);
  
  

  /* frame and strips */
  const frame=make('rect',{x:box.left,y:box.top,width:box.right-box.left,height:box.bottom-box.top,fill:'none',stroke:'#333','stroke-width':1.5},g);
  
  
  const stripTop=make('rect',{x:box.left,y:box.top-23.5,width:box.right-box.left,height:23.5,fill:'#d9d9d9',stroke:'#333','stroke-width':1.3},g);
  
  
  const stripLeft=make('rect',{x:o.stripLeft,y:box.top,width:box.left-o.stripLeft-1,height:box.bottom-box.top,fill:'#d9d9d9',stroke:'#333','stroke-width':1.3},g);
  
  
  label('top-strip-label','TOP2A',{x:(box.left+box.right)/2,y:box.top-7.5,'font-size':12,'text-anchor':'middle',fill:'#222'},g);
  label('left-strip-label',o.gene,{transform:'translate('+(o.stripLeft+(box.left-o.stripLeft)/2+4)+' '+o.geneY+') rotate(-90)','font-size':12,'text-anchor':'middle',fill:'#222'},g);

  /* ticks */
  xTicksBottom.forEach(function(v){
    const t=make('line',{x1:xScale(v),x2:xScale(v),y1:box.bottom,y2:box.bottom+3,stroke:'#333','stroke-width':1},g);
    
    
    label('x-tick-label',String(v),{x:xScale(v),y:o.xLabelY,'font-size':12.5,'text-anchor':'middle',fill:'#333'},g);
  });
  o.yTicks.forEach(function(v,i){
    const t=make('line',{x1:o.stripLeft-3,x2:o.stripLeft,y1:yScale(v),y2:yScale(v),stroke:'#333','stroke-width':1},g);
    
    
    label('y-tick-label',o.yLabels[i],{x:o.stripLeft-5.5,y:yScale(v)+4.4,'font-size':12.5,'text-anchor':'end',fill:'#333'},g);
  });
  label('x-axis-title','Expression Level (log2 TPM)',{x:o.xTitleX,y:o.xTitleY,'font-size':16.3,'text-anchor':'middle',fill:'#111',textLength:202,lengthAdjust:'spacingAndGlyphs'},g);
  label('y-axis-title','Expression Level (log2 TPM)',{transform:'translate('+o.yTitleX+' '+o.yTitleY+') rotate(-90)','font-size':16.3,'text-anchor':'middle',fill:'#111',textLength:204,lengthAdjust:'spacingAndGlyphs'},g);
  label('correlation-label',o.cor,{x:o.statRight,y:o.statY1,'font-size':13.6,'text-anchor':'end',fill:'#f01a1a'},g);
  label('p-value-label',o.pv,{x:o.statRight,y:o.statY2,'font-size':13.6,'text-anchor':'end',fill:'#f01a1a'},g);
}

drawTopPanel({name:'panel-a',letter:'A',letterX:3,x2:119,x8:293.3,yv0:0.72,yp0:155,yv1:0.64,yp1:313.7,
  box:{left:66,right:313,top:117,bottom:352},yTicks:yTicksA,yLabels:yTickLabelsA,yMinor:yMinorA,points:pointsA.concat(pointsAExtra),
  fitX:fitXA,fitY:fitYA,bandX:bandXA,bandHi:bandHiA,bandLo:bandLoA,rightY:rightDensityYA,rightW:rightDensityWA,
  densBase:313.7,densWidth:29.6,xLabelShift:4,xLabelY:362,yTickX:64.5,yLabelX:61,xTitleX:188.5,
  yTitle:'PI3K_AKT_mTOR_pathway',yTitleX:29.5,yTitleY:217,yTitleLen:199,
  stat1:'loge(S) = 15.21, P = 5.41e-28',rho:'0.53',ci:'[0.45, 0.60]',statX:54});
drawTopPanel({name:'panel-b',letter:'B',letterX:349,x2:452.7,x8:629,yv0:0.6,yp0:157.7,yv1:0.3,yp1:313,
  box:{left:398,right:648,top:117,bottom:352},yTicks:yTicksB,yLabels:yTickLabelsB,yMinor:yMinorB,points:pointsB.concat(pointsBExtra),
  fitX:fitXB,fitY:fitYB,bandX:bandXB,bandHi:bandHiB,bandLo:bandLoB,rightY:rightDensityYB,rightW:rightDensityWB,
  densBase:649.3,densWidth:28.4,xLabelShift:0,xLabelY:364,yTickX:397.7,yLabelX:392.7,xTitleX:521.7,
  yTitle:'EMT_markers',yTitleX:369,yTitleY:227,yTitleLen:99,
  stat1:'loge(S) = 15.84, P = 0.028',rho:'0.11',ci:'[0.01, 0.22]',statX:396});
drawTopPanel({name:'panel-c',letter:'C',letterX:677,x2:792.3,x8:966.7,yv0:1,yp0:140.7,yv1:0.25,yp1:319,
  box:{left:740,right:985,top:117,bottom:352},yTicks:yTicksC,yLabels:yTickLabelsC,yMinor:yMinorC,points:pointsC.concat(pointsCExtra),
  fitX:fitXC,fitY:fitYC,bandX:bandXC,bandHi:bandHiC,bandLo:bandLoC,rightY:rightDensityYC,rightW:rightDensityWC,
  densBase:986.7,densWidth:28.4,xLabelShift:1,xLabelY:364,yTickX:738.7,yLabelX:733,xTitleX:868.3,
  yTitle:'Tumor_proliferation_signature',yTitleX:699,yTitleY:229,yTitleLen:212,
  stat1:'loge(S) = 14.15, P = 4.16e-98',rho:'0.84',ci:'[0.80, 0.86]',statX:728});

label('panel-letter-d','D',{x:5,y:477,'font-size':30,'font-weight':'bold',fill:'#000'});

drawBottomPanel({name:'panel-d-vegfa',gene:'VEGFA',geneY:611.7,x0:79.3,x6:278,yv0:8,yp0:544.3,yv1:4,yp1:683,
  box:{left:76.7,right:330,top:497.7,bottom:725},stripLeft:52,
  yTicks:yTicksD1,yLabels:yTicksD1.map(String),yMinor:yMinorD1,points:pointsD1.concat(pointsD1Extra),
  smoothX:smoothXD1,smoothY:smoothYD1,smoothHi:smoothHiD1,smoothLo:smoothLoD1,
  xLabelY:740.7,xTitleX:203.8,xTitleY:760.7,yTitleX:31,yTitleY:611.5,
  cor:'cor = 0.53',pv:'p = 0e+00',statRight:325,statY1:517,statY2:537});
drawBottomPanel({name:'panel-d-mmp2',gene:'MMP2',geneY:606.7,x0:432,x6:616.7,yv0:10,yp0:505,yv1:0,yp1:714.3,
  box:{left:428,right:666,top:493.3,bottom:720},stripLeft:405,
  yTicks:yTicksD2,yLabels:yTickLabelsD2,yMinor:yMinorD2,points:pointsD2.concat(pointsD2Extra),
  smoothX:smoothXD2,smoothY:smoothYD2,smoothHi:smoothHiD2,smoothLo:smoothLoD2,
  xLabelY:736,xTitleX:547.3,xTitleY:761.7,yTitleX:366.7,yTitleY:605,
  cor:'cor = 0.124',pv:'p = 1.69e\u221202',statRight:659.3,statY1:511.7,statY2:530.7});
drawBottomPanel({name:'panel-d-mmp9',gene:'MMP9',geneY:607,x0:774,x6:959,yv0:10,yp0:499.3,yv1:0,yp1:710.7,
  box:{left:770.7,right:1007.7,top:493.3,bottom:720},stripLeft:747,
  yTicks:yTicksD3,yLabels:yTickLabelsD3,yMinor:yMinorD3,points:pointsD3.concat(pointsD3Extra),
  smoothX:smoothXD3,smoothY:smoothYD3,smoothHi:smoothHiD3,smoothLo:smoothLoD3,
  xLabelY:736,xTitleX:889.8,xTitleY:761.7,yTitleX:709,yTitleY:605,
  cor:'cor = 0.359',pv:'p = 1.07e\u221212',statRight:1001.7,statY1:511.7,statY2:530.7});
</script>
</body>
</html>
